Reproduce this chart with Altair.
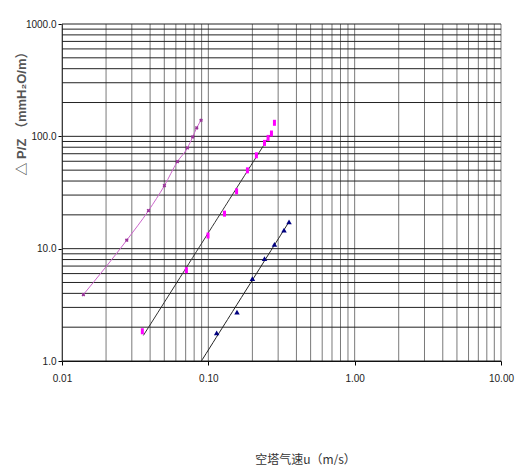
import altair as alt
import pandas as pd

# ---- data ----
s1_u = [0.0140, 0.0277, 0.0390, 0.0501, 0.0615, 0.0720, 0.0782, 0.0833, 0.0892]
s1_dp = [3.9, 11.9, 21.8, 36.4, 59.6, 78.8, 98.8, 119, 139]

s2_u = [0.0354, 0.0708, 0.0995, 0.129, 0.156, 0.185, 0.213, 0.242, 0.256, 0.270, 0.283]
s2_dp = [1.84, 6.43, 13.1, 20.5, 32.4, 49.8, 67.8, 87.4, 96.8, 106, 132]

s3_u = [0.114, 0.157, 0.200, 0.242, 0.283, 0.329, 0.356]
s3_dp = [1.78, 2.72, 5.42, 8.16, 10.9, 14.6, 17.3]

s2_fit_range = [0.036, 0.27]
s3_fit_range = [0.08, 0.356]

x_ticks = [0.01, 0.1, 1, 10]
y_ticks = [1, 10, 100, 1000]
multiples = [1, 2, 3, 4, 5, 6, 7, 8, 9]

x_grid = [m * d for d in x_ticks[:-1] for m in multiples] + [x_ticks[-1]]
y_grid = [m * d for d in y_ticks[:-1] for m in multiples] + [y_ticks[-1]]

df1 = pd.DataFrame({"u": s1_u, "dp": s1_dp})
df2 = pd.DataFrame({"u": s2_u, "dp": s2_dp})
df3 = pd.DataFrame({"u": s3_u, "dp": s3_dp})

xs = alt.Scale(type="log", domain=[0.01, 10], nice=False)
ys = alt.Scale(type="log", domain=[1, 1000], nice=False)

label_font = "Liberation Sans Narrow, Liberation Sans, Arial"
x_title = "空塔气速u（m/s）"
y_title = "△ P/Z （mmH₂O/m）"

x_axis = alt.Axis(
    values=x_ticks, format=".2f", grid=False, tickSize=4, tickColor="#000",
    domainColor="#000", labelFont=label_font, labelFontSize=10, labelColor="#222",
    labelPadding=8, labelFlush=False, title=x_title, titleFont="Noto Sans CJK SC",
    titleFontSize=12, titleFontWeight="normal", titleColor="#333",
    titleX=243, titleY=98, titleBaseline="middle", titleAlign="center",
)
y_axis = alt.Axis(
    values=y_ticks, format=".1f", grid=False, tickSize=4, tickColor="#000",
    domainColor="#000", labelFont=label_font, labelFontSize=10, labelColor="#222",
    labelPadding=2, labelFlush=False, title=y_title,
    titleFont="Liberation Sans, Noto Sans CJK SC",
    titleFontSize=13, titleFontWeight="bold", titleColor="#555",
    titleX=-41, titleY=86, titleAlign="center", titleBaseline="middle",
)


def X(field):
    return alt.X(field, type="quantitative", scale=xs, axis=x_axis, title=x_title)


def Y(field):
    return alt.Y(field, type="quantitative", scale=ys, axis=y_axis, title=y_title)


vgrid = alt.Chart(pd.DataFrame({"v": x_grid})).mark_rule(
    color="#7a7a7a", strokeWidth=1
).encode(x=X("v"))

hgrid = alt.Chart(pd.DataFrame({"v": y_grid})).mark_rule(
    color="#222", strokeWidth=1
).encode(y=Y("v"))

line1 = alt.Chart(df1).mark_line(color="#cc66cc", strokeWidth=1, interpolate="monotone").encode(
    x=X("u"), y=Y("dp")
)
pts1 = alt.Chart(df1).mark_point(
    shape="cross", angle=45, size=14, filled=True, color="#993399", opacity=1
).encode(x=X("u"), y=Y("dp"))

line2 = alt.Chart(df2).transform_regression(
    "u", "dp", method="pow", extent=s2_fit_range
).mark_line(color="#333", strokeWidth=1, clip=True).encode(x=X("u"), y=Y("dp"))
pts2 = alt.Chart(df2).mark_point(
    shape="M-0.5,-1L0.5,-1L0.5,1L-0.5,1Z", size=36, filled=True, color="#ff00ff", opacity=1
).encode(x=X("u"), y=Y("dp"))

line3 = alt.Chart(df3).transform_regression(
    "u", "dp", method="pow", extent=s3_fit_range
).mark_line(color="#222", strokeWidth=1, clip=True).encode(x=X("u"), y=Y("dp"))
pts3 = alt.Chart(df3).mark_point(
    shape="triangle-up", size=30, filled=True, color="#000080", opacity=1
).encode(x=X("u"), y=Y("dp"))

chart = alt.layer(vgrid, hgrid, line1, pts1, line2, pts2, line3, pts3).properties(
    width=439, height=337,
    autosize=alt.AutoSizeParams(type="none"),
    padding={"left": 54, "top": 16, "right": 16, "bottom": 104},
    background="white",
).configure_view(stroke=None)

chart.save("out.html", embed_options={"renderer": "svg", "actions": False})
